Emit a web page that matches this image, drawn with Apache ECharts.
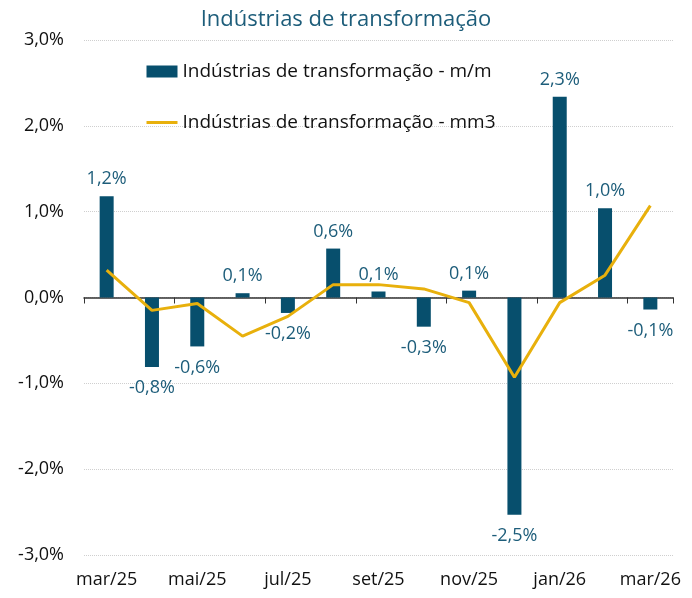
<!DOCTYPE html>
<html>
<head>
<meta charset="utf-8">
<script src="https://cdn.jsdelivr.net/npm/echarts@6/dist/echarts.min.js"></script>
<style>html,body{margin:0;padding:0;background:#fff}#c{width:692px;height:598px}</style>
</head>
<body>
<div id="c"></div>
<script>
var categories = ['mar/25','abr/25','mai/25','jun/25','jul/25','ago/25','set/25','out/25','nov/25','dez/25','jan/26','fev/26','mar/26'];
var mmValues = [1.18,-0.81,-0.57,0.05,-0.18,0.57,0.07,-0.34,0.08,-2.53,2.34,1.04,-0.14];
var mm3Values = [0.32,-0.15,-0.07,-0.45,-0.22,0.15,0.15,0.10,-0.06,-0.93,-0.06,0.26,1.07];
var yTicks = [-3,-2,-1,0,1,2,3];

var FONT = "'Open Sans', sans-serif";
function pct(v){ return v.toFixed(1).replace('.', ',') + '%'; }

var chart = echarts.init(document.getElementById('c'));
chart.setOption({
  animation: false,
  textStyle: {fontFamily: FONT},
  title: {
    text: 'Indústrias de transformação',
    left: 'center', top: 4,
    textStyle: {color: '#1d5d7a', fontSize: 22, fontWeight: 'normal', fontFamily: FONT}
  },
  legend: {
    orient: 'vertical', left: 140, top: 57,
    itemGap: 32, itemWidth: 31, itemHeight: 12,
    textStyle: {color: '#111', fontSize: 19, fontFamily: FONT},
    data: [
      {name: 'Indústrias de transformação - m/m', icon: 'rect'},
      {name: 'Indústrias de transformação - mm3', itemStyle: {opacity: 0}, lineStyle: {width: 3, color: '#e8b00c'}}
    ]
  },
  grid: {left: 84, right: 19, top: 40, bottom: 43},
  xAxis: [{
    type: 'category', data: categories, position: 'bottom',
    axisLine: {onZero: true, lineStyle: {color: '#333', width: 1.5}},
    axisTick: {show: true, interval: 1, length: 6, lineStyle: {color: '#333'}},
    axisLabel: {show: false},
    splitLine: {show: false}
  }, {
    type: 'category', data: categories, position: 'bottom',
    axisLine: {show: false, onZero: false},
    axisTick: {show: false},
    axisLabel: {interval: 1, margin: 16, color: '#111', fontSize: 18, fontFamily: FONT},
    splitLine: {show: false}
  }],
  yAxis: {
    type: 'value', min: yTicks[0], max: yTicks[yTicks.length-1], interval: 1,
    axisLine: {show: false}, axisTick: {show: false},
    axisLabel: {margin: 20, color: '#111', fontSize: 18, fontFamily: FONT, formatter: function(v){ return pct(v); }},
    splitLine: {lineStyle: {color: '#cfcfcf', type: 'dotted', width: 1}}
  },
  series: [{
    name: 'Indústrias de transformação - m/m',
    type: 'bar', xAxisIndex: 0, barWidth: 14,
    data: mmValues.map(function(v){
      return {value: v, label: v < 0 ? {position: 'bottom', distance: 12} : {position: 'top', distance: 8}};
    }),
    itemStyle: {color: '#074f6d'},
    label: {
      show: true, color: '#1d5d7a', fontSize: 18, fontFamily: FONT,
      formatter: function(p){ return pct(p.value); }
    },
    z: 2
  }, {
    name: 'Indústrias de transformação - mm3',
    type: 'line', xAxisIndex: 0, data: mm3Values,
    symbol: 'none', lineStyle: {color: '#e8b00c', width: 3},
    itemStyle: {color: '#e8b00c'},
    z: 3
  }]
});
</script>
</body>
</html>
